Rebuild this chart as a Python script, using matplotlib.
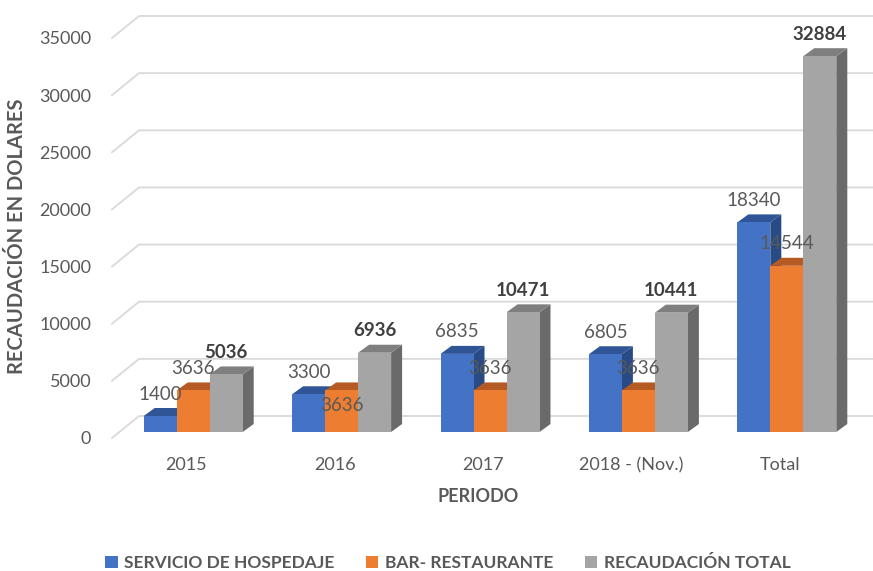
import matplotlib
matplotlib.use("Agg")
import matplotlib.pyplot as plt
from matplotlib.patches import Polygon, Rectangle, Patch

plt.rcParams['font.family'] = ['Lato', 'DejaVu Sans']

# === Datos ===
periodos = ['2015', '2016', '2017', '2018 - (Nov.)', 'Total']
hospedaje = [1400, 3300, 6835, 6805, 18340]
bar_rest = [3636, 3636, 3636, 3636, 14544]
total = [5036, 6936, 10471, 10441, 32884]
series_names = ['SERVICIO DE HOSPEDAJE', 'BAR- RESTAURANTE', 'RECAUDACIÓN TOTAL']
y_ticks = [0, 5000, 10000, 15000, 20000, 25000, 30000, 35000]

# colores: frente, techo, lateral
colores = [('#4472C4', '#2F5597', '#284A85'),
           ('#ED7D31', '#B45A22', '#A3521F'),
           ('#A5A5A5', '#7F7F7F', '#6A6A6A')]

W, H, DPI = 873, 571, 100
fig = plt.figure(figsize=(W / DPI, H / DPI), dpi=DPI)
ax_l, ax_r, ax_b, ax_t = 112, 854, 438, 38   # pixeles
ax = fig.add_axes([ax_l / W, 1 - ax_b / H, (ax_r - ax_l) / W, (ax_b - ax_t) / H])
ax.set_xlim(-0.5, len(periodos) - 0.5)
ax.set_ylim(0, 35000)
for s in ax.spines.values():
    s.set_visible(False)

px_x = (ax_r - ax_l) / len(periodos)      # pixeles por categoria
px_y = (ax_b - ax_t) / 35000               # pixeles por unidad


def to_data(x, y, dx, dy):
    return (x + dx / px_x, y + dy / px_y)


# === Rejilla (pared lateral + pared trasera) ===
wall_dx, wall_dy = 27, 22
for v in y_ticks:
    x0, y0 = -0.5, v
    x1, y1 = to_data(x0, y0, wall_dx, wall_dy)
    x2 = -0.5 + (W - ax_l) / px_x
    ax.plot([x0, x1, x2], [y0, y1, y1], color='#D9D9D9', lw=1.3, clip_on=False, zorder=0)

# === Barras 3D ===
bar_w = 33 / px_x
depth_dx, depth_dy = 11, 8
shift_x, shift_y = 7, 6
texto_color = '#595959'
label_pos = {(1, 1): -15}   # etiqueta desplazada (2016, bar-restaurante)

for i in range(len(periodos)):
    for k, serie in enumerate([hospedaje, bar_rest, total]):
        v = serie[i]
        front, top, side = colores[k]
        xl, yb = to_data(i + (k - 1.5) * bar_w, 0, shift_x, shift_y)
        xr = xl + bar_w
        yt = yb + v
        ax.add_patch(Polygon([(xr, yb), to_data(xr, yb, depth_dx, depth_dy),
                              to_data(xr, yt, depth_dx, depth_dy), (xr, yt)],
                             closed=True, fc=side, ec='none', clip_on=False, zorder=2))
        ax.add_patch(Polygon([(xl, yt), (xr, yt), to_data(xr, yt, depth_dx, depth_dy),
                              to_data(xl, yt, depth_dx, depth_dy)],
                             closed=True, fc=top, ec='none', clip_on=False, zorder=2))
        ax.add_patch(Rectangle((xl, yb), bar_w, v, fc=front, ec='none',
                               clip_on=False, zorder=2))
        off = label_pos.get((i, k), 22)
        lx, ly = to_data((xl + xr) / 2, yt, 0, off)
        ax.text(lx, ly, str(v), ha='center', va='center', fontsize=13.5,
                color='#404040' if k == 2 else texto_color,
                fontweight='bold' if k == 2 else 'normal', zorder=5)

# === Ejes ===
ax.set_yticks(y_ticks)
ax.set_yticklabels([str(t) for t in y_ticks])
ax.set_xticks(range(len(periodos)))
ax.set_xticklabels(periodos)
ax.tick_params(axis='y', length=0, pad=15, labelsize=13, labelcolor=texto_color)
ax.tick_params(axis='x', length=0, pad=14, labelsize=13, labelcolor=texto_color)

fig.text(17 / W, 1 - 236 / H, 'RECAUDACIÓN EN DOLARES', rotation=90, ha='center',
         va='center', fontsize=14.5, fontweight='bold', color=texto_color)
fig.text(478 / W, 1 - 497 / H, 'PERIODO', ha='center', va='center',
         fontsize=13, fontweight='bold', color=texto_color)

handles = [Patch(fc=c[0], ec='none') for c in colores]
fig.legend(handles, series_names, loc='center', bbox_to_anchor=(448 / W, 1 - 563 / H),
           ncol=3, frameon=False, handlelength=0.7, handleheight=0.7,
           handletextpad=0.4, columnspacing=1.8,
           prop={'size': 12.5, 'weight': 'bold'}, labelcolor=texto_color)

fig.savefig('out.png', dpi=DPI)
